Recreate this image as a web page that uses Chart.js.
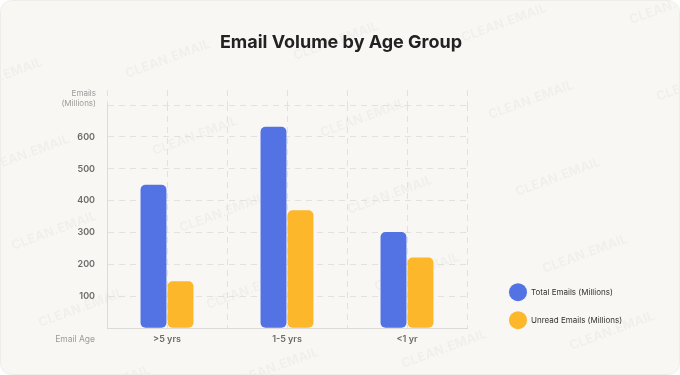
<!DOCTYPE html>
<html>
<head>
<meta charset="utf-8">
<script src="https://cdn.jsdelivr.net/npm/chart.js@4"></script>
<style>
  html, body { margin: 0; padding: 0; background: #ffffff; }
  .card {
    width: 680px; height: 375px; box-sizing: border-box;
    background: #f8f7f4; border: 1px solid #efede9; border-radius: 12px;
    position: relative; overflow: hidden;
  }
  .card canvas { position: absolute; left: 0; top: 0; }
</style>
</head>
<body>
<div class="card"><canvas id="chart" width="680" height="375"></canvas></div>
<script>
// Data
const ageGroups = ['>5 yrs', '1-5 yrs', '<1 yr'];
const totalEmails = [450, 632, 302];
const unreadEmails = [147, 370, 222];
const yTicksMax = 700;

const FONT = 'Inter, "Noto Sans", sans-serif';
const GRID = '#e3e1dd';
const DASH = [6, 5];

// faint "CLEAN.EMAIL" watermark behind the chart
const watermark = {
    id: 'watermark',
    beforeDraw(chart) {
        const ctx = chart.ctx;
        ctx.save();
        ctx.font = '700 13px ' + FONT;
        ctx.fillStyle = 'rgba(0, 0, 0, 0.03)';
        ctx.textAlign = 'center';
        ctx.textBaseline = 'middle';
        for (let i = -3; i < 6; i++) {
            for (let j = -4; j < 6; j++) {
                const x = 26 + i * 168 + j * 27;
                const y = 153 - i * 18 + j * 77;
                if (x < -60 || x > 740 || y < -20 || y > 395) continue;
                ctx.save();
                ctx.translate(x, y);
                ctx.rotate(-20 * Math.PI / 180);
                ctx.fillText('CLEAN.EMAIL', 0, 0);
                ctx.restore();
            }
        }
        ctx.restore();
    }
};

// axis captions that sit beside the tick labels
const axisCaptions = {
    id: 'axisCaptions',
    afterDraw(chart) {
        const ctx = chart.ctx;
        const y = chart.scales.y;
        const x = chart.scales.x;
        ctx.save();
        ctx.fillStyle = '#9b9b9b';
        ctx.textAlign = 'right';
        ctx.textBaseline = 'middle';
        ctx.font = '400 8px ' + FONT;
        ctx.fillText('Emails', y.right - 11, chart.chartArea.top - 12);
        ctx.fillText('(Millions)', y.right - 11, chart.chartArea.top - 2);
        ctx.font = '400 8.5px ' + FONT;
        ctx.fillText('Email Age', y.right - 12, x.top + 11.5);
        ctx.restore();
    }
};

// legend sits a bit right of and lower than the plot area
const legendPlace = {
    id: 'legendPlace',
    afterInit(chart) {
        const fit = chart.legend.fit;
        chart.legend.fit = function () {
            fit.call(this);
            this.width = 214;
        };
    },
    afterLayout(chart) {
        const lg = chart.legend;
        lg.left += 32; lg.right += 32;
        lg.top += 11; lg.bottom += 11;
    }
};

new Chart(document.getElementById('chart'), {
    type: 'bar',
    data: {
        labels: ageGroups,
        datasets: [
            {
                label: 'Total Emails (Millions)',
                data: totalEmails,
                backgroundColor: '#5373e4',
                borderRadius: 5,
                borderSkipped: false,
                categoryPercentage: 0.45,
                barPercentage: 0.96
            },
            {
                label: 'Unread Emails (Millions)',
                data: unreadEmails,
                backgroundColor: '#fcb72a',
                borderRadius: 5,
                borderSkipped: false,
                categoryPercentage: 0.45,
                barPercentage: 0.96
            }
        ]
    },
    options: {
        responsive: false,
        animation: false,
        layout: { padding: { left: 0, right: 0, top: 0, bottom: 25 } },
        plugins: {
            title: {
                display: true,
                text: 'Email Volume by Age Group',
                color: '#222222',
                font: { family: FONT, size: 18, weight: '700' },
                padding: { top: 31, bottom: 36.5 }
            },
            legend: {
                position: 'right',
                align: 'end',
                fullSize: false,
                labels: {
                    boxWidth: 18,
                    boxHeight: 18,
                    useBorderRadius: true,
                    borderRadius: 9,
                    padding: 10,
                    color: '#333333',
                    font: { family: FONT, size: 8 }
                }
            },
            tooltip: { enabled: false }
        },
        scales: {
            x: {
                position: 'bottom',
                grid: { display: false, drawTicks: false },
                border: { display: true, color: '#dddbd7' },
                ticks: {
                    padding: 6,
                    color: '#6a6a6a',
                    font: { family: FONT, size: 9, weight: '600' }
                }
            },
            // extra axis only for the vertical dashed grid (centres and edges of groups)
            xGrid: {
                type: 'linear',
                position: 'top',
                min: 0,
                max: 6,
                offset: false,
                grid: {
                    offset: false,
                    color: GRID,
                    drawTicks: true,
                    tickLength: 15,
                    tickColor: GRID,
                    tickBorderDash: DASH
                },
                border: { display: false, dash: DASH },
                ticks: { display: false, stepSize: 1 }
            },
            y: {
                min: 0,
                max: yTicksMax,
                afterFit(scale) { scale.width = 106; },
                grid: { color: GRID, drawTicks: false },
                border: { display: true, color: '#dddbd7', dash: DASH },
                ticks: {
                    stepSize: 100,
                    padding: 12,
                    color: '#6a6a6a',
                    font: { family: FONT, size: 9, weight: '600' },
                    callback: (v) => (v === 0 || v === yTicksMax) ? '' : v
                }
            }
        }
    },
    plugins: [watermark, axisCaptions, legendPlace]
});
</script>
</body>
</html>
